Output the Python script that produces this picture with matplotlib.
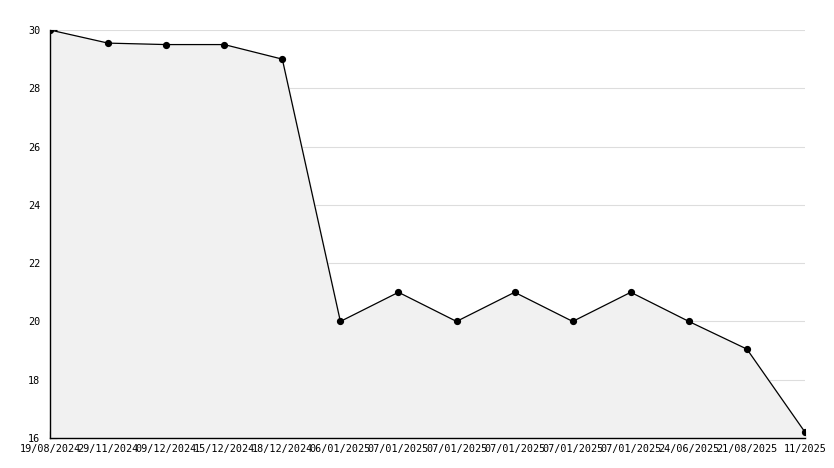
import matplotlib
matplotlib.use("Agg")
import matplotlib.pyplot as plt
from matplotlib.ticker import MultipleLocator

dates = ["19/08/2024", "29/11/2024", "09/12/2024", "15/12/2024", "18/12/2024",
         "06/01/2025", "07/01/2025", "07/01/2025", "07/01/2025", "07/01/2025",
         "07/01/2025", "24/06/2025", "21/08/2025", "11/2025"]
values = [30.0, 29.55, 29.5, 29.5, 29.0, 20.0, 21.0, 20.0, 21.0, 20.0, 21.0, 20.0, 19.05, 16.2]

plt.rcParams["font.family"] = ["DejaVu Sans Mono"]
fig = plt.figure(figsize=(8.34, 4.68), dpi=100)
ax = fig.add_axes([50/834, 1-438/468, (805-50)/834, (438-30)/468])
x = list(range(len(values)))
ax.fill_between(x, values, 16, color="#f1f1f1", zorder=1)
ax.plot(x, values, color="black", lw=0.9, marker="o", ms=4.2, zorder=3)

ax.set_xlim(0, len(values)-1)
ax.set_ylim(16, 30)
ax.set_xticks(x)
ax.set_xticklabels(dates, fontsize=7.3)
ax.yaxis.set_major_locator(MultipleLocator(2))
ax.yaxis.set_minor_locator(MultipleLocator(1))
ax.tick_params(axis="y", which="both", direction="in", labelsize=7.3, pad=7)
ax.tick_params(axis="y", which="major", length=5)
ax.tick_params(axis="y", which="minor", length=3)
ax.tick_params(axis="x", direction="in", length=5, pad=4.5)
ax.grid(axis="y", which="major", color="#dddddd", lw=0.8, zorder=0)
ax.set_axisbelow(True)
for s in ["top", "right"]:
    ax.spines[s].set_visible(False)
for s in ["left", "bottom"]:
    ax.spines[s].set_linewidth(1.0)
    ax.spines[s].set_zorder(4)
fig.savefig("out.png", dpi=100)
